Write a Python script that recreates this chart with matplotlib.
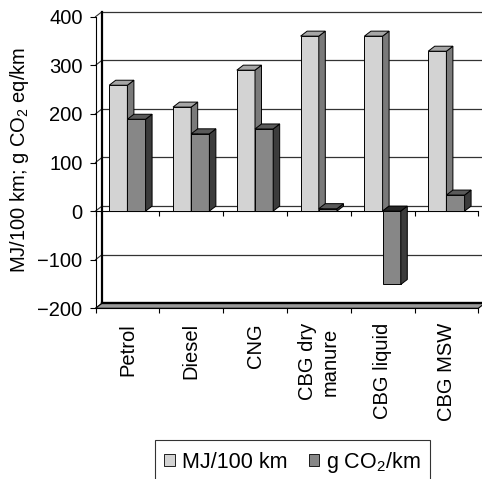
import numpy as np
import matplotlib
matplotlib.use("Agg")
import matplotlib.pyplot as plt
from matplotlib.patches import Polygon, Patch

plt.rcParams["font.family"] = ["Liberation Sans", "DejaVu Sans"]

# ---- data ----
categories = ["Petrol", "Diesel", "CNG", "CBG dry\nmanure", "CBG liquid", "CBG MSW"]
energy_mj_per_100km = [259, 214, 290, 360, 360, 329]
ghg_g_co2_per_km = [189, 159, 169, 5, -151, 33]
y_ticks = [-200, -100, 0, 100, 200, 300, 400]
series_labels = ["MJ/100 km", "g CO$_\\mathregular{2}$/km"]
y_label = "MJ/100 km; g CO$_\\mathregular{2}$ eq/km"

# ---- style ----
LIGHT = dict(front="#d3d3d3", top="#a6a6a6", side="#7a7a7a")
DARK = dict(front="#878787", top="#5a5a5a", side="#3c3c3c")
GRID = "#333333"
FONT = 14.5
LEGEND_FONT = 15.5
DEPTH_PX = (6.5, 5.0)  # pseudo-3D depth of walls and bars (pixels)

W, H = 482, 479
fig = plt.figure(figsize=(W / 100, H / 100), dpi=100)
ax = fig.add_axes([95.5 / W, 1 - 308.3 / H, 382.8 / W, 291.6 / H])
n = len(categories)
ymin, ymax = y_ticks[0], y_ticks[-1]
ax.set_xlim(0, n)
ax.set_ylim(ymin, ymax)
ax.patch.set_visible(False)

# depth expressed in data units
p0 = ax.transData.transform((0, 0))
p1 = ax.transData.transform((1, 1))
ddx = DEPTH_PX[0] / (p1[0] - p0[0])
ddy = DEPTH_PX[1] / (p1[1] - p0[1])

# back wall gridlines and left wall diagonals
for v in y_ticks:
    ax.plot([ddx, n + 2 * ddx], [v + ddy, v + ddy], color=GRID, lw=0.9,
            clip_on=False, zorder=1)
    ax.plot([0, ddx], [v, v + ddy], color=GRID, lw=0.8, clip_on=False, zorder=1)
# back wall left edge
ax.plot([ddx, ddx], [ymin + ddy, ymax + ddy], color="black", lw=1.6,
        clip_on=False, zorder=1.2)

# floor slab
floor = Polygon([(0, ymin), (n, ymin), (n + ddx, ymin + ddy), (ddx, ymin + ddy)],
                closed=True, facecolor="#9a9a9a", edgecolor="black", lw=0.8,
                clip_on=False, zorder=1.3)
ax.add_patch(floor)
ax.plot([ddx, n + ddx], [ymin + ddy, ymin + ddy], color="black", lw=1.7,
        clip_on=False, zorder=1.4)

# zero plane front edge with its category ticks
tick_units = 5.0 / (p1[1] - p0[1])
ax.plot([0, n], [0, 0], color="black", lw=0.8, clip_on=False, zorder=1.5)
ax.vlines(np.arange(n + 1), 0, -tick_units, color="black", lw=0.8,
          clip_on=False, zorder=1.5)

# ---- bars ----
w = 0.285
xc = np.arange(n) + 0.5


def extrude(bars, style, z):
    for rect in bars:
        x0, y0 = rect.get_x(), rect.get_y()
        x1, y1 = x0 + rect.get_width(), y0 + rect.get_height()
        lo, hi = min(y0, y1), max(y0, y1)
        side = Polygon([(x1, lo), (x1, hi), (x1 + ddx, hi + ddy), (x1 + ddx, lo + ddy)],
                       closed=True, facecolor=style["side"], edgecolor="black",
                       lw=0.7, clip_on=False, zorder=z)
        cap_color = style["top"] if y1 >= y0 else "#262626"
        top = Polygon([(x0, hi), (x1, hi), (x1 + ddx, hi + ddy), (x0 + ddx, hi + ddy)],
                      closed=True, facecolor=cap_color, edgecolor="black",
                      lw=0.7, clip_on=False, zorder=z)
        ax.add_patch(side)
        ax.add_patch(top)


bars_e = ax.bar(xc - w / 2, energy_mj_per_100km, width=w, color=LIGHT["front"],
                edgecolor="black", lw=0.7, zorder=2, clip_on=False)
extrude(bars_e, LIGHT, 2)
bars_g = ax.bar(xc + w / 2, ghg_g_co2_per_km, width=w, color=DARK["front"],
                edgecolor="black", lw=0.7, zorder=3, clip_on=False)
extrude(bars_g, DARK, 3)

# ---- axes ----
for s in ("top", "right"):
    ax.spines[s].set_visible(False)
for s in ("left", "bottom"):
    ax.spines[s].set_linewidth(0.8)
    ax.spines[s].set_zorder(1.6)

ax.set_yticks(y_ticks)
ax.tick_params(axis="y", length=4.3, width=0.8, pad=5.0, labelsize=FONT)

ax.set_xticks(np.arange(n + 1))
ax.set_xticklabels([])
ax.tick_params(axis="x", which="major", length=3.6, width=0.8)
ax.set_xticks(xc, minor=True)
ax.set_xticklabels(categories, minor=True, rotation=90, fontsize=FONT,
                   va="top", ha="center", multialignment="center")
ax.tick_params(axis="x", which="minor", length=0, pad=10.6)

ax.set_ylabel(y_label, fontsize=FONT)
ax.yaxis.set_label_coords(-0.168, 0.5086)

# ---- legend ----
handles = [Patch(facecolor=LIGHT["front"], edgecolor="black", lw=0.6),
           Patch(facecolor=DARK["front"], edgecolor="black", lw=0.6)]
leg = fig.legend(handles, series_labels, loc="upper center",
                 bbox_to_anchor=(292.5 / W, 1 - 440 / H), ncol=2,
                 fontsize=LEGEND_FONT, frameon=True, fancybox=False,
                 shadow=False, borderpad=0.45, handlelength=0.5,
                 handleheight=0.5, handletextpad=0.3, columnspacing=1.0,
                 borderaxespad=0)
leg.get_frame().set_edgecolor("black")
leg.get_frame().set_linewidth(0.8)

fig.savefig("out.png", dpi=100)
